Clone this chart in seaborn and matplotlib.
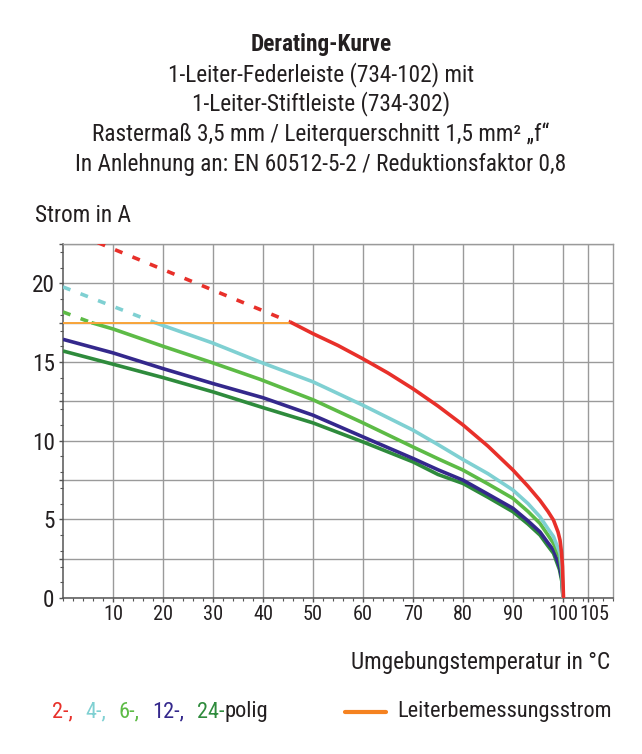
import matplotlib
matplotlib.use("Agg")
import matplotlib.pyplot as plt
from matplotlib import font_manager as fm
import seaborn as sns
import pandas as pd
from matplotlib.ticker import MultipleLocator, FixedLocator, FuncFormatter

# ---------------- data ----------------
title_lines = [
    "Derating-Kurve",
    "1-Leiter-Federleiste (734-102) mit",
    "1-Leiter-Stiftleiste (734-302)",
    "Rastermaß 3,5 mm / Leiterquerschnitt 1,5 mm² \u201ef\u201c",
    "In Anlehnung an: EN 60512-5-2 / Reduktionsfaktor 0,8",
]
y_label = "Strom in A"
x_label = "Umgebungstemperatur in °C"

x_ticks = [10, 20, 30, 40, 50, 60, 70, 80, 90, 100, 105]
y_ticks = [0, 2.5, 5, 7.5, 10, 12.5, 15, 17.5, 20, 22.5]

# 2-polig (red)
red_dash_x = [0, 45.4]
red_dash_y = [23.5, 17.55]
red_x = [45.4, 50, 55, 60, 65, 70, 75, 80, 85, 90, 93, 95.4, 97, 98.1, 99, 99.4, 99.7, 99.9, 100.1]
red_y = [17.55, 16.8, 16.05, 15.2, 14.3, 13.3, 12.2, 11.0, 9.65, 8.13, 7.1, 6.2, 5.5, 4.95, 4.2, 3.68, 2.9, 2.0, 0.0]

# 4-polig (cyan)
cyan_dash_x = [0, 18.4]
cyan_dash_y = [19.77, 17.5]
cyan_x = [18.4, 30, 39.4, 50, 60, 70, 75, 80, 85, 90, 93, 95.4, 97, 98.1, 99.4, 99.8, 100]
cyan_y = [17.5, 16.2, 15.0, 13.74, 12.25, 10.67, 9.75, 8.8, 7.9, 6.86, 6.0, 5.16, 4.4, 3.9, 2.84, 1.8, 0.0]

# 6-polig (light green)
green_dash_x = [0, 5.7]
green_dash_y = [18.18, 17.5]
green_x = [5.7, 10, 20, 30, 39.4, 50, 60, 70, 75, 80, 85, 90, 93, 95.4, 97, 98.1, 99.3, 99.8, 100]
green_y = [17.5, 17.1, 16.0, 14.94, 13.9, 12.6, 11.13, 9.6, 8.85, 8.13, 7.25, 6.33, 5.5, 4.74, 4.0, 3.47, 2.6, 1.6, 0.0]

# 12-polig (indigo)
blue_x = [0, 10, 20, 30, 40, 50, 60, 70, 75, 80, 85, 90, 93, 95.4, 97, 98.1, 99.3, 99.8, 100]
blue_y = [16.44, 15.58, 14.58, 13.63, 12.73, 11.62, 10.24, 8.87, 8.15, 7.49, 6.6, 5.7, 4.9, 4.2, 3.5, 3.05, 2.0, 1.2, 0.0]

# 24-polig (dark green)
dgreen_x = [0, 10, 20, 30, 40, 50, 60, 70, 75, 80, 85, 90, 93, 95.4, 97, 98.1, 99.3, 99.8, 100]
dgreen_y = [15.70, 14.86, 14.01, 13.1, 12.1, 11.13, 9.92, 8.65, 7.85, 7.28, 6.4, 5.48, 4.7, 4.0, 3.3, 2.84, 1.8, 1.0, 0.0]

# Leiterbemessungsstrom (orange)
orange_x = [0, 45.4]
orange_y = [17.5, 17.5]

legend_parts = ["2-,", "4-,", "6-,", "12-,", "24-", "polig"]
legend_line_label = "Leiterbemessungsstrom"

# ---------------- style ----------------
C_RED = "#E8302A"
C_CYAN = "#7FD0D2"
C_GREEN = "#5DBB46"
C_BLUE = "#34288C"
C_DGREEN = "#2E8B3C"
C_ORANGE = "#F9A53A"
C_ORANGE_LEG = "#F58220"
C_TEXT = "#231F20"

sns.set_theme(style="white")

flist = fm.fontManager.ttflist
names = {f.name for f in flist}
family = "Roboto"
for cand in ["Roboto Condensed", "Open Sans Condensed", "Noto Sans Condensed", "Liberation Sans Narrow"]:
    if cand in names:
        family = cand
        break
plt.rcParams["font.family"] = [family, "DejaVu Sans"]
plt.rcParams["text.color"] = C_TEXT

W, H = 642, 754
fig = plt.figure(figsize=(W / 100, H / 100), dpi=100)
ax = fig.add_axes([63 / W, 1 - 598 / H, (613 - 63) / W, (598 - 244) / H])
renderer = fig.canvas.get_renderer()

def text_width(s, size, **kw):
    t = fig.text(0, 0, s, fontsize=size, **kw)
    w = t.get_window_extent(renderer=renderer).width
    t.remove()
    return w

# size text so the longest title line matches the reference width
fs = 15 * 492 / text_width(title_lines[-1], 15)
tick_fs = min(fs, fs * 30 / text_width("100", fs))

LW = 2.6

def seg(x, y, color, lw=LW, dashed=False, z=3):
    df = pd.DataFrame({"T": x, "I": y})
    sns.lineplot(data=df, x="T", y="I", ax=ax, color=color, linewidth=lw,
                 estimator=None, sort=False, zorder=z)
    line = ax.get_lines()[-1]
    if dashed:
        line.set_dashes((2.2, 3.0))
    line.set_solid_capstyle("butt")
    line.set_dash_capstyle("butt")

seg(dgreen_x, dgreen_y, C_DGREEN)
seg(blue_x, blue_y, C_BLUE)
seg(green_dash_x, green_dash_y, C_GREEN, dashed=True)
seg(green_x, green_y, C_GREEN)
seg(cyan_dash_x, cyan_dash_y, C_CYAN, dashed=True)
seg(cyan_x, cyan_y, C_CYAN)
seg(orange_x, orange_y, C_ORANGE, lw=1.4, z=4)
seg(red_dash_x, red_dash_y, C_RED, dashed=True)
seg(red_x, red_y, C_RED, z=5)

ax.set_xlim(0, 110)
ax.set_ylim(0, 22.5)
ax.set_xlabel("")
ax.set_ylabel("")

ax.xaxis.set_major_locator(FixedLocator(x_ticks))
ax.xaxis.set_minor_locator(MultipleLocator(2))
ax.xaxis.set_major_formatter(FuncFormatter(lambda v, p: "" if v == 105 else f"{v:g}"))
ax.yaxis.set_major_locator(FixedLocator(y_ticks))
ax.yaxis.set_minor_locator(MultipleLocator(1))
ax.yaxis.set_major_formatter(FuncFormatter(lambda v, p: f"{v:g}" if v % 5 == 0 and v <= 20 else ""))

GRID = "#9A9A9A"
ax.grid(True, which="major", color=GRID, linewidth=1.0)
ax.set_axisbelow(True)
for t in ax.xaxis.get_major_ticks():
    if t.get_loc() == 105:
        t.gridline.set_visible(False)

for s in ["top", "right"]:
    ax.spines[s].set_color(GRID)
    ax.spines[s].set_linewidth(1.0)
for s in ["left", "bottom"]:
    ax.spines[s].set_color("#555555")
    ax.spines[s].set_linewidth(1.1)

ax.tick_params(axis="both", which="major", direction="out", length=3, width=1,
               color="#555555", labelcolor=C_TEXT, bottom=True, left=True)
ax.tick_params(axis="both", which="minor", direction="out", length=2, width=0.8,
               color="#555555", bottom=True, left=True)
ax.tick_params(axis="x", pad=2, labelsize=tick_fs)
ax.tick_params(axis="y", pad=3, labelsize=fs)

# the "105" label sits slightly right of its tick, as in the reference
ax.annotate("105", xy=(105, 0), xycoords=("data", "axes fraction"),
            xytext=(4.5, -5), textcoords="offset points", ha="center", va="top",
            fontsize=tick_fs, color=C_TEXT, annotation_clip=False)

# ---------------- texts ----------------
title_y = [45, 75, 104, 134, 164]
for i, (line, yy) in enumerate(zip(title_lines, title_y)):
    fig.text(0.5, 1 - yy / H, line, ha="center", va="center", fontsize=fs,
             fontweight="bold" if i == 0 else "normal", color=C_TEXT)

fig.text(35 / W, 1 - 215 / H, y_label, ha="left", va="center", fontsize=fs, color=C_TEXT)
fig.text(610 / W, 1 - 663 / H, x_label, ha="right", va="center", fontsize=fs, color=C_TEXT)

# legend: multi-coloured text, spread to the reference width (52..268 px)
leg_fs = fs * 213 / text_width(legend_line_label, fs)
leg_colors = [C_RED, C_CYAN, C_GREEN, C_BLUE, C_DGREEN, C_TEXT]
widths = [text_width(p, leg_fs) for p in legend_parts]
n_gaps = 4  # spaces after 2-, 4-, 6-, 12-
gap = (268 - 52 - sum(widths)) / n_gaps
x_px = 52
ly = 1 - 712 / H
for i, (part, col, w) in enumerate(zip(legend_parts, leg_colors, widths)):
    fig.text(x_px / W, ly, part, ha="left", va="center", fontsize=leg_fs, color=col)
    x_px += w + (gap if i < n_gaps else 0)

fig.add_artist(plt.Line2D([345 / W, 386 / W], [ly, ly], color=C_ORANGE_LEG, linewidth=3,
                          transform=fig.transFigure))
fig.text(397 / W, ly, legend_line_label, ha="left", va="center", fontsize=leg_fs, color=C_TEXT)

fig.savefig("out.png", dpi=100, facecolor="white")
